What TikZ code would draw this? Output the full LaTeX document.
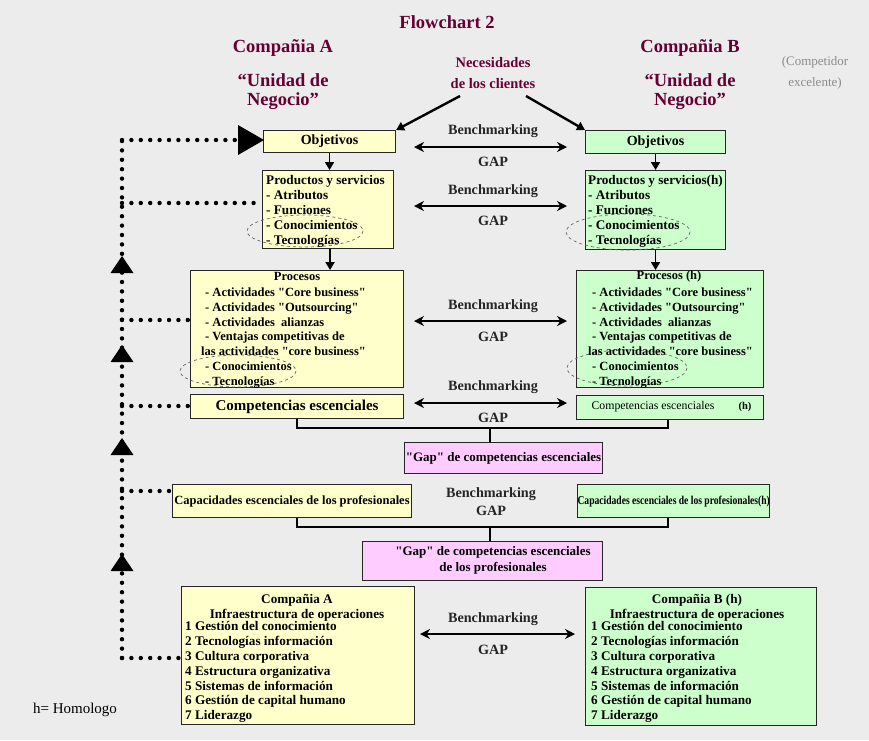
\documentclass[tikz,border=0pt]{standalone}
\usepackage{fontspec}
\usepackage{graphicx}
\setmainfont{Liberation Serif}[Ligatures=TeXOff]
\usetikzlibrary{arrows.meta}
\definecolor{bg}{RGB}{236,236,236}
\definecolor{ybox}{RGB}{255,255,204}
\definecolor{gbox}{RGB}{204,255,204}
\definecolor{pbox}{RGB}{255,204,255}
\definecolor{maroon}{RGB}{102,0,51}
\definecolor{softgray}{RGB}{140,140,140}
\begin{document}
\begin{tikzpicture}[x=1pt,y=-1pt,
  panel/.style={draw=black!85, line width=1.1pt, inner sep=0pt, anchor=north west},
  yel/.style={panel, fill=ybox},
  grn/.style={panel, fill=gbox},
  pnk/.style={panel, fill=pbox},
  body/.style={font=\bfseries\fontsize{13.2}{15}\selectfont, inner sep=0pt, align=left, anchor=north west},
  proc/.style={font=\bfseries\fontsize{12.5}{14.7}\selectfont, inner sep=0pt, align=left, anchor=north west},
  infra/.style={font=\bfseries\fontsize{13.2}{14.8}\selectfont, inner sep=0pt, align=left, anchor=north west},
  ttl/.style={font=\bfseries\fontsize{12.5}{15}\selectfont, inner sep=0pt},
  head/.style={text=maroon, font=\bfseries\fontsize{18.5}{21}\selectfont, inner sep=0pt},
  bench/.style={font=\bfseries\fontsize{14.2}{16}\selectfont, text=black!85, inner sep=0pt},
  gaparrow/.style={{Stealth[length=10pt,width=10pt]}-{Stealth[length=10pt,width=10pt]}, line width=2.6pt},
  link/.style={-{Triangle[length=8pt,width=9pt]}, line width=1.8pt},
  dots/.style={line width=4.4pt, line cap=round, dash pattern=on 0pt off 9.4pt},
  oval/.style={dashed, draw=black!60, line width=0.7pt},
  bracket/.style={line width=2.8pt},
]
% canvas
\fill[bg] (0,0) rectangle (869,740);
\useasboundingbox (0,0) rectangle (869,740);

% headings
\node[head, font=\bfseries\fontsize{18.5}{22}\selectfont] (title) at (447,22) {Flowchart 2};
\node[head] (compA) at (283,48) {Compañia A};
\node[head] (unA1) at (283,80) {“Unidad de};
\node[head] (unA2) at (283,101) {Negocio”};
\node[head] (compB) at (690,48) {Compañia B};
\node[head] (unB1) at (690,80) {“Unidad de};
\node[head] (unB2) at (690,101) {Negocio”};
\node[head, font=\bfseries\fontsize{14.5}{21}\selectfont, align=center] (nec) at (493,73) {Necesidades\\de los clientes};
\node[text=softgray, font=\fontsize{13}{21}\selectfont, align=center, inner sep=0pt] (compet) at (815,73) {(Competidor\\excelente)};

% company A column
\node[yel, minimum width=132, minimum height=22, font=\bfseries\fontsize{14}{15}\selectfont] (objA) at (263,130) {Objetivos};
\node[yel, minimum width=131, minimum height=78] (prodA) at (262,170) {};
\node[yel, minimum width=213, minimum height=117] (procA) at (190,270) {};
\node[yel, minimum width=213, minimum height=24, font=\bfseries\fontsize{15}{16}\selectfont] (cmpA) at (190,394) {Competencias escenciales};
\node[yel, minimum width=239, minimum height=33, font=\bfseries\fontsize{12.5}{14}\selectfont] (capA) at (172,484) {Capacidades escenciales de los profesionales};
\node[yel, minimum width=233, minimum height=138] (infA) at (181,586) {};

% company B column
\node[grn, minimum width=140, minimum height=23, font=\bfseries\fontsize{14}{15}\selectfont] (objB) at (585,130) {Objetivos};
\node[grn, minimum width=140, minimum height=79] (prodB) at (585,170) {};
\node[grn, minimum width=187, minimum height=117] (procB) at (576,270) {};
\node[grn, minimum width=187, minimum height=24] (cmpB) at (576,395) {};
\node[grn, minimum width=189, minimum height=33] (capB) at (577,484) {\scalebox{0.8}[1]{\bfseries\fontsize{12}{14}\selectfont Capacidades escenciales de los profesionales(h)}};
\node[grn, minimum width=231, minimum height=138] (infB) at (585,587) {};

% gap boxes
\node[pnk, minimum width=198, minimum height=31, font=\bfseries\fontsize{13}{15}\selectfont] (gapC) at (404,442) {"Gap" de competencias escenciales};
\node[pnk, minimum width=240, minimum height=39] (gapP) at (362,541) {};
\node[font=\bfseries\fontsize{13}{16}\selectfont, align=center, inner sep=0pt] (gapPt) at (493,560.5) {"Gap" de competencias escenciales\\de los profesionales};

% dashed ovals round the knowledge items
\draw[oval] (305,231) ellipse [x radius=58, y radius=16];
\draw[oval] (628,232) ellipse [x radius=62, y radius=18];
\draw[oval] (238,371) ellipse [x radius=58, y radius=16];
\draw[oval] (627,368) ellipse [x radius=60, y radius=18];

% box contents
\node[body] (prodAt) at (266,175.5) {Productos y servicios\\- Atributos\\- Funciones\\- Conocimientos\\- Tecnologías};
\node[body] (prodBt) at (588,175.5) {Productos y servicios(h)\\- Atributos\\- Funciones\\- Conocimientos\\- Tecnologías};
\node[ttl] (procAh) at (297,276) {Procesos};
\node[proc] (procAt) at (205,288) {- Actividades "Core business"\\- Actividades "Outsourcing"\\- Actividades\ \ alianzas\\- Ventajas competitivas de\\\hspace*{-4pt}las actividades "core business"\\- Conocimientos\\- Tecnologías};
\node[ttl] (procBh) at (669,276) {Procesos (h)};
\node[proc] (procBt) at (592,288) {- Actividades "Core business"\\- Actividades "Outsourcing"\\- Actividades\ \ alianzas\\- Ventajas competitivas de\\\hspace*{-4pt}las actividades "core business"\\- Conocimientos\\- Tecnologías};
\node[font=\fontsize{11.8}{14}\selectfont, inner sep=0pt] (cmpBt) at (653,407) {Competencias escenciales};
\node[font=\bfseries\fontsize{10.5}{12}\selectfont, inner sep=0pt] (cmpBh) at (745,407) {(h)};
\node[ttl, font=\bfseries\fontsize{13.2}{15}\selectfont] (infAh) at (297,608) {\begin{tabular}{@{}c@{}}Compañia A\\Infraestructura de operaciones\end{tabular}};
\node[infra] (infAt) at (185,621.5) {1 Gestión del conocimiento\\2 Tecnologías información\\3 Cultura corporativa\\4 Estructura organizativa\\5 Sistemas de información\\6 Gestión de capital humano\\7 Liderazgo};
\node[ttl, font=\bfseries\fontsize{13.2}{15}\selectfont] (infBh) at (697,608) {\begin{tabular}{@{}c@{}}Compañia B (h)\\Infraestructura de operaciones\end{tabular}};
\node[infra] (infBt) at (591,621.5) {1 Gestión del conocimiento\\2 Tecnologías información\\3 Cultura corporativa\\4 Estructura organizativa\\5 Sistemas de información\\6 Gestión de capital humano\\7 Liderazgo};

% customer needs feed both objective boxes
\coordinate (necL) at (460,96);
\coordinate (necR) at (526,96);
\draw[link, line width=2.4pt] (necL) -- (objA.north east);
\draw[link, line width=2.4pt] (necR) -- (objB.north west);

% downward flow inside each column
\draw[link] (objA.south) -- (objA.south |- prodA.north);
\draw[link] (prodA.south) ++(2,0) coordinate (pa) -- (pa |- procA.north);
\draw[link] (objB.south) -- (objB.south |- prodB.north);
\draw[link] (prodB.south) -- (prodB.south |- procB.north);

% benchmarking rows
\foreach \r/\yb/\ya/\yg/\xl/\xr in {1/131/147/162/414/567, 2/191/206/221/414/567, 3/306/321/337/414/567, 4/387/403/418/414/567, 6/619/634/650/420/575}{
  \node[bench] (bm\r) at (493,\yb) {Benchmarking};
  \node[bench] (gp\r) at (493,\yg) {GAP};
  \coordinate (al\r) at (\xl,\ya);
  \coordinate (ar\r) at (\xr,\ya);
  \draw[gaparrow] (al\r) -- (ar\r);
}
\node[bench] (bm5) at (491,494) {Benchmarking};
\node[bench] (gp5) at (491,511) {GAP};

% brackets joining the paired boxes into the gap boxes
\coordinate (jA) at (297,428);
\coordinate (jB) at (668,428);
\draw[bracket] (jA |- cmpA.south) -- (jA) -- (jB) -- (jB |- cmpB.south);
\coordinate (jM) at (490,428);
\draw[bracket] (jM) -- (jM |- gapC.north);
\coordinate (kA) at (297,527);
\coordinate (kB) at (668,527);
\draw[bracket] (kA |- capA.south) -- (kA) -- (kB) -- (kB |- capB.south);
\coordinate (kM) at (490,527);
\draw[bracket] (kM) -- (kM |- gapP.north);

% feedback spine on the left
\coordinate (s0) at (122,140);
\coordinate (s1) at (122,203);
\coordinate (s2) at (122,320);
\coordinate (s3) at (122,406);
\coordinate (s4) at (122,491);
\coordinate (s5) at (122,658);
\draw[dots] (s5) -- (s0);
\draw[dots] (s0) -- (238,140);
\draw[dots] (s1) -- (s1 -| prodA.west);
\draw[dots] (s2) -- (s2 -| procA.west);
\draw[dots] (s3) -- (s3 -| cmpA.west);
\draw[dots] (s4) -- (s4 -| capA.west);
\draw[dots] (s5) -- (s5 -| infA.west);
\fill (238,125) -- (264,140) -- (238,155) -- cycle;
\foreach \ty in {256,345,438,554}{
  \fill (122,\ty) -- (133.5,\ty+17) -- (110.5,\ty+17) -- cycle;
}

% legend
\node[font=\fontsize{15}{17}\selectfont, inner sep=0pt] (legend) at (75,710) {h= Homologo};
\end{tikzpicture}
\end{document}
